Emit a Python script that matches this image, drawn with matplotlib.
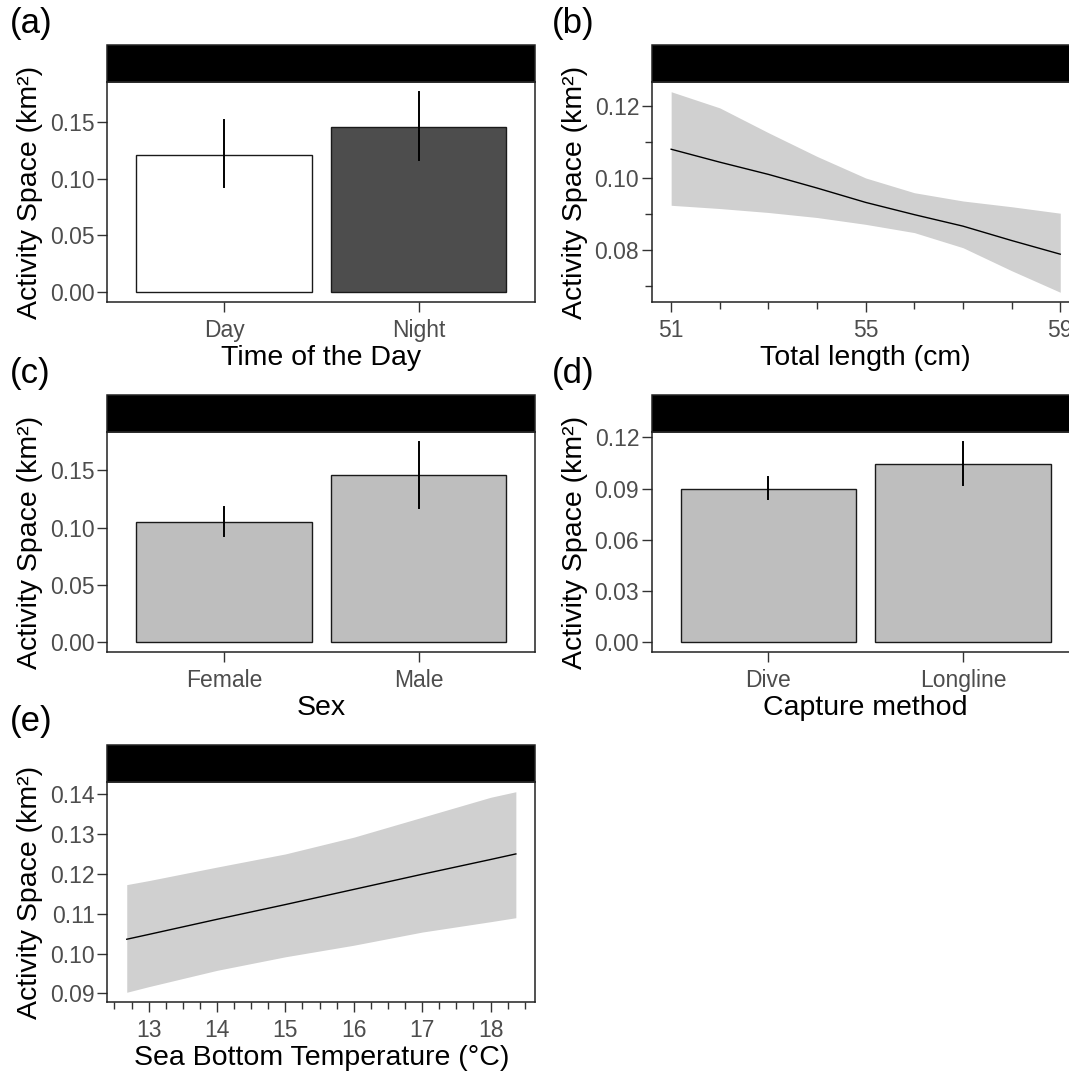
import matplotlib
matplotlib.use("Agg")
import matplotlib.pyplot as plt
from matplotlib.patches import Rectangle
from matplotlib.ticker import FixedLocator, MultipleLocator, FormatStrFormatter

plt.rcParams['font.family'] = ['Liberation Sans', 'DejaVu Sans']

# ---------------- data ----------------
# (a) Time of the day
tod_cats = ["Day", "Night"]
tod_mean = [0.121, 0.1456]
tod_lo = [0.0926, 0.1167]
tod_hi = [0.1515, 0.1765]

# (b) Total length
length_cm = [51, 52, 53, 54, 55, 56, 57, 58, 59]
length_fit = [0.1080, 0.1044, 0.1010, 0.0972, 0.0932, 0.0898, 0.0866, 0.0826, 0.0788]
length_upper = [0.1240, 0.1195, 0.1126, 0.1060, 0.1000, 0.0959, 0.0936, 0.0920, 0.0902]
length_lower = [0.0924, 0.0915, 0.0904, 0.0890, 0.0871, 0.0848, 0.0806, 0.0742, 0.0682]

# (c) Sex
sex_cats = ["Female", "Male"]
sex_mean = [0.1047, 0.1463]
sex_lo = [0.0929, 0.1174]
sex_hi = [0.1180, 0.1750]

# (d) Capture method
cap_cats = ["Dive", "Longline"]
cap_mean = [0.0896, 0.1045]
cap_lo = [0.0842, 0.0919]
cap_hi = [0.0968, 0.1175]

# (e) Sea bottom temperature
temp_c = [12.68, 13, 14, 15, 16, 17, 18, 18.37]
temp_fit = [0.1036, 0.1048, 0.1086, 0.1123, 0.1161, 0.1199, 0.1236, 0.1250]
temp_upper = [0.1173, 0.1183, 0.1217, 0.1250, 0.1292, 0.1342, 0.1392, 0.1406]
temp_lower = [0.0903, 0.0917, 0.0958, 0.0992, 0.1021, 0.1054, 0.1080, 0.1090]

YLABEL = "Activity Space (km²)"

# ---------------- layout ----------------
W, H = 1069, 1075
fig = plt.figure(figsize=(W / 100, H / 100), dpi=100)
fig.patch.set_facecolor("white")

AX_W = 428
AX_H = 220.6
STRIP_H = 36.4
LEFTS = [107.3, 651.7]
TOPS = [81.7, 431.7, 781.7]  # top of the plotting area (strip bottom)

TICK_COL = "#4D4D4D"
TICK_FS = 16.5
TITLE_FS = 20.5


def make_axes(col, row):
    l = LEFTS[col]
    t = TOPS[row]
    ax = fig.add_axes([l / W, 1 - (t + AX_H) / H, AX_W / W, AX_H / H])
    for s in ax.spines.values():
        s.set_linewidth(1.1)
        s.set_color("#222222")
    ax.tick_params(axis="both", which="major", length=7, width=1.0,
                   color="#333333", labelcolor=TICK_COL, labelsize=TICK_FS, pad=2)
    ax.tick_params(axis="x", which="major", pad=5)
    ax.tick_params(axis="both", which="minor", length=5, width=1.0, color="#333333")
    strip = Rectangle((0, 1), 1, STRIP_H / AX_H, transform=ax.transAxes,
                      facecolor="black", edgecolor="#222222", lw=1.1, clip_on=False)
    ax.add_patch(strip)
    ax.set_ylabel(YLABEL, fontsize=TITLE_FS, labelpad=5)
    return ax


def expand(lo, hi, f=0.05):
    r = hi - lo
    return lo - f * r, hi + f * r


def bar_panel(ax, cats, mean, lo, hi, colors, yticks, xlabel):
    x = list(range(len(cats)))
    ax.bar(x, mean, width=0.9, color=colors, edgecolor="#1a1a1a", linewidth=1.0, zorder=2)
    for xi, l, h in zip(x, lo, hi):
        ax.plot([xi, xi], [l, h], color="black", lw=1.4, zorder=3)
    ax.set_xlim(-0.6, len(cats) - 0.4)
    ax.set_ylim(*expand(0, max(hi)))
    ax.set_xticks(x)
    ax.set_xticklabels(cats)
    ax.yaxis.set_major_locator(FixedLocator(yticks))
    ax.yaxis.set_major_formatter(FormatStrFormatter("%.2f"))
    ax.set_xlabel(xlabel, fontsize=TITLE_FS, labelpad=2)


# (a)
ax_a = make_axes(0, 0)
bar_panel(ax_a, tod_cats, tod_mean, tod_lo, tod_hi, ["white", "#4D4D4D"],
          [0.00, 0.05, 0.10, 0.15], "Time of the Day")

# (b)
ax_b = make_axes(1, 0)
ax_b.fill_between(length_cm, length_lower, length_upper, color="#D0D0D0", lw=0, zorder=1)
ax_b.plot(length_cm, length_fit, color="black", lw=1.0, zorder=2)
ax_b.set_xlim(*expand(min(length_cm), max(length_cm)))
ax_b.set_ylim(*expand(min(length_lower), max(length_upper)))
ax_b.xaxis.set_major_locator(FixedLocator([51, 55, 59]))
ax_b.xaxis.set_minor_locator(MultipleLocator(1))
ax_b.yaxis.set_major_locator(FixedLocator([0.08, 0.10, 0.12]))
ax_b.yaxis.set_minor_locator(FixedLocator([0.07, 0.09, 0.11]))
ax_b.yaxis.set_major_formatter(FormatStrFormatter("%.2f"))
ax_b.set_xlabel("Total length (cm)", fontsize=TITLE_FS, labelpad=2)

# (c)
ax_c = make_axes(0, 1)
bar_panel(ax_c, sex_cats, sex_mean, sex_lo, sex_hi, ["#BEBEBE", "#BEBEBE"],
          [0.00, 0.05, 0.10, 0.15], "Sex")

# (d)
ax_d = make_axes(1, 1)
bar_panel(ax_d, cap_cats, cap_mean, cap_lo, cap_hi, ["#BEBEBE", "#BEBEBE"],
          [0.00, 0.03, 0.06, 0.09, 0.12], "Capture method")

# (e)
ax_e = make_axes(0, 2)
ax_e.fill_between(temp_c, temp_lower, temp_upper, color="#D0D0D0", lw=0, zorder=1)
ax_e.plot(temp_c, temp_fit, color="black", lw=1.0, zorder=2)
ax_e.set_xlim(*expand(min(temp_c), max(temp_c)))
ax_e.set_ylim(*expand(min(temp_lower), max(temp_upper)))
ax_e.xaxis.set_major_locator(FixedLocator([13, 14, 15, 16, 17, 18]))
ax_e.xaxis.set_minor_locator(MultipleLocator(0.25))
ax_e.yaxis.set_major_locator(FixedLocator([0.09, 0.10, 0.11, 0.12, 0.13, 0.14]))
ax_e.yaxis.set_major_formatter(FormatStrFormatter("%.2f"))
ax_e.set_xlabel("Sea Bottom Temperature (°C)", fontsize=TITLE_FS, labelpad=2)

# panel tags
for lab, (px, py) in zip(["(a)", "(b)", "(c)", "(d)", "(e)"],
                         [(10, 24), (552, 24), (10, 374), (552, 374), (10, 722)]):
    fig.text(px / W, 1 - py / H, lab, fontsize=25, ha="left", va="center", color="black")

fig.savefig("out.png", dpi=100, facecolor="white")
